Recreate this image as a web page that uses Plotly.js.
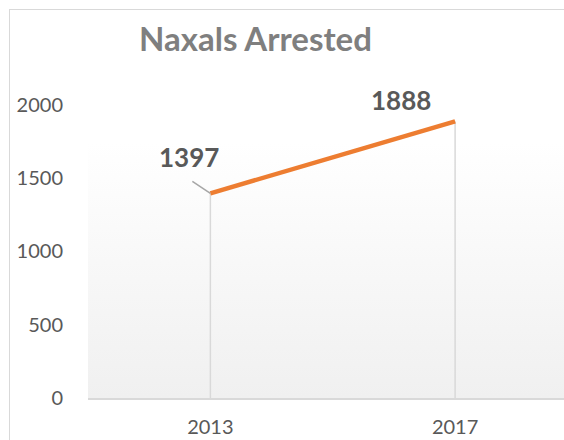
<!DOCTYPE html>
<html>
<head>
<meta charset="utf-8">
<script src="https://cdn.plot.ly/plotly-3.0.1.min.js"></script>
<style>
  html, body { margin: 0; padding: 0; background: #ffffff; }
  #wrap { position: relative; width: 564px; height: 440px; overflow: hidden; }
  #bg { position: absolute; left: 88px; top: 143px; width: 476px; height: 255px;
        background: linear-gradient(to bottom, #ffffff 0%, #f0f0f0 100%); }
  #frame { position: absolute; left: 9px; top: 9px; width: 600px; height: 500px;
           border: 1.5px solid #d9d9d9; box-sizing: border-box; }
  #chart { position: absolute; left: 0; top: 0; width: 564px; height: 440px; }
</style>
</head>
<body>
<div id="wrap">
  <div id="frame"></div>
  <div id="bg"></div>
  <div id="chart"></div>
</div>
<script>
const years = ['2013', '2017'];
const arrested = [1397, 1888];
const yTicks = [0, 500, 1000, 1500, 2000];
const chartTitle = 'Naxals Arrested';

const dropX = [], dropY = [];
years.forEach((c, i) => { dropX.push(c, c, null); dropY.push(0, arrested[i], null); });

const traces = [
  { x: dropX, y: dropY, type: 'scatter', mode: 'lines',
    line: { color: '#d9d9d9', width: 1.5 }, hoverinfo: 'skip', showlegend: false },
  { x: years, y: arrested, type: 'scatter', mode: 'lines',
    line: { color: '#ED7D31', width: 4.5 }, showlegend: false, cliponaxis: false }
];

const labelFont = { family: 'Lato, sans-serif', size: 26, color: '#595959' };
const annotations = [
  { x: 0, y: arrested[0], xref: 'x', yref: 'y', text: ' ', showarrow: true,
    arrowhead: 0, arrowwidth: 1.5, arrowcolor: '#a6a6a6', ax: -21, ay: -14, standoff: 0 },
  { x: 0, y: arrested[0], xref: 'x', yref: 'y', text: '<b>' + arrested[0] + '</b>',
    showarrow: false, xshift: -21, yshift: 36, font: labelFont },
  { x: 1, y: arrested[1], xref: 'x', yref: 'y', text: '<b>' + arrested[1] + '</b>',
    showarrow: false, xshift: -54, yshift: 21, font: labelFont }
];

const layout = {
  width: 564, height: 440,
  margin: { l: 88, r: 0, t: 100, b: 42, pad: 0 },
  paper_bgcolor: 'rgba(0,0,0,0)',
  plot_bgcolor: 'rgba(0,0,0,0)',
  title: { text: '<b>' + chartTitle + '</b>', xref: 'container', yref: 'container',
           x: 0.453, xanchor: 'center', y: 0.91, yanchor: 'middle',
           font: { family: 'Lato, sans-serif', size: 33, color: '#7f7f7f' } },
  xaxis: { type: 'category', range: [-0.5, 1.445], showgrid: false, zeroline: false,
           showline: true, linecolor: '#d9d9d9', linewidth: 2, ticks: '',
           ticklabelstandoff: 10, fixedrange: true,
           tickfont: { family: 'Lato, sans-serif', size: 20, color: '#595959' } },
  yaxis: { range: [0, 2034], tickvals: yTicks, showgrid: false, zeroline: false,
           showline: false, ticks: '', ticklabelstandoff: 24, fixedrange: true,
           tickfont: { family: 'Lato, sans-serif', size: 20, color: '#595959' } },
  annotations: annotations,
  showlegend: false
};

Plotly.newPlot('chart', traces, layout, { displayModeBar: false, staticPlot: true });
</script>
</body>
</html>
